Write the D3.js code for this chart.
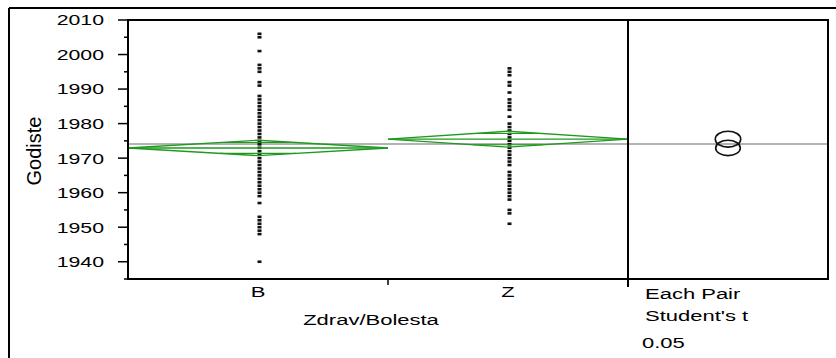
<!DOCTYPE html>
<html>
<head>
<meta charset="utf-8">
<script src="https://cdn.jsdelivr.net/npm/d3@7"></script>
<style>
  body { margin:0; background:#fff; }
  svg { display:block; font-family:"Liberation Sans", Arial, sans-serif; }
</style>
</head>
<body>
<svg width="836" height="358"></svg>
<script>
// groups and their sizes (width of each group on the x axis is proportional to n)
var groups = ["B", "Z"];
var group_n = [130, 120];
var group_mean = [1972.95, 1975.5];
var group_ci = [2.23, 2.3];
var grand_mean = 1974.1;

// distinct years seen in each group
var years_B = [2006,2005,2001,1997,1996,1995,1992,1991,1988,1987,1986,1985,1984,1983,1982,1981,1980,1979,1978,1977,
  1976,1975,1974,1973,1972,1971,1970,1969,1968,1967,1966,1965,1964,1963,1962,1961,1960,1959,1957,1953,1952,1951,1950,1949,1948,1940];
var years_Z = [1996,1995,1994,1992,1991,1989,1987,1986,1985,1984,1982,1980,1979,1978,1977,1976,1975,1974,1973,1972,
  1971,1970,1969,1968,1966,1965,1964,1963,1962,1961,1960,1959,1958,1955,1954,1951];

var y_ticks = [1940,1950,1960,1970,1980,1990,2000,2010];
var y_minor = [1935,1945,1955,1965,1975,1985,1995,2005];
var side_text = ["Each Pair", "Student's t", "0.05"];

function draw()
{
  var svg = d3.select("svg");
  var left = 128, right = 628, top = 20, bottom = 279, panel_r = 828;
  var green = "#1f9a1f";
  var sx = 1.42; // text in the picture is stretched sideways

  var total = 0;
  for(var i=0;i<group_n.length;i++) total += group_n[i];
  var x = d3.scaleLinear().domain([0, total]).range([left, right]);
  var y = d3.scaleLinear().domain([1935, 2010]).range([bottom, top]);
  var xc = d3.scaleLinear().domain([0, 1]).range([right, panel_r]);

  var bands = [];
  var start = 0;
  for(var i=0;i<groups.length;i++)
  {
    bands.push({name:groups[i], x0:x(start), x1:x(start+group_n[i]), mean:group_mean[i], ci:group_ci[i]});
    start += group_n[i];
  }

  // outer frame
  svg.append("line").attr("x1",9).attr("x2",836).attr("y1",8).attr("y2",8).attr("stroke","#000").attr("stroke-width",2);
  svg.append("line").attr("x1",9).attr("x2",9).attr("y1",8).attr("y2",358).attr("stroke","#000").attr("stroke-width",2);

  // grand mean
  svg.append("line").attr("x1",left).attr("x2",panel_r).attr("y1",y(grand_mean)).attr("y2",y(grand_mean))
    .attr("stroke","#9a9a9a").attr("stroke-width",1.5);

  // dots
  var pts = [];
  for(var i=0;i<years_B.length;i++) pts.push({g:0, v:years_B[i]});
  for(var i=0;i<years_Z.length;i++) pts.push({g:1, v:years_Z[i]});
  svg.selectAll("rect.pt").data(pts).enter().append("rect")
    .attr("class","pt")
    .attr("x", d => (bands[d.g].x0+bands[d.g].x1)/2 - 0.5)
    .attr("y", d => y(d.v) - 1.3)
    .attr("width", 4).attr("height", 2.6)
    .attr("fill", "#111");

  // mean diamonds
  for(var i=0;i<bands.length;i++)
  {
    var b = bands[i];
    var cx = (b.x0+b.x1)/2;
    var my = y(b.mean), ty = y(b.mean+b.ci), by = y(b.mean-b.ci);
    svg.append("path")
      .attr("d", "M"+b.x0+","+my+"L"+cx+","+ty+"L"+b.x1+","+my+"L"+cx+","+by+"Z")
      .attr("fill","none").attr("stroke",green).attr("stroke-width",1.4);
    svg.append("line").attr("x1",b.x0).attr("x2",b.x1).attr("y1",my).attr("y2",my)
      .attr("stroke",green).attr("stroke-width",1.4);
    // overlap marks
    var off = b.ci*Math.SQRT1_2;
    var hw = (b.x1-b.x0)/2*(1-Math.SQRT1_2);
    [b.mean+off, b.mean-off].forEach(function(v){
      svg.append("line").attr("x1",cx-hw).attr("x2",cx+hw).attr("y1",y(v)).attr("y2",y(v))
        .attr("stroke",green).attr("stroke-width",1.2);
    });
  }

  // comparison circles
  svg.selectAll("ellipse.cc").data(bands).enter().append("ellipse")
    .attr("class","cc")
    .attr("cx", xc(0.5))
    .attr("cy", d => y(d.mean))
    .attr("ry", d => y(d.mean-d.ci)-y(d.mean))
    .attr("rx", d => (y(d.mean-d.ci)-y(d.mean))*1.6)
    .attr("fill","none").attr("stroke","#111").attr("stroke-width",1.6);

  // boxes
  svg.append("rect").attr("x",left).attr("y",top).attr("width",panel_r-left).attr("height",bottom-top)
    .attr("fill","none").attr("stroke","#000").attr("stroke-width",2);
  svg.append("line").attr("x1",right).attr("x2",right).attr("y1",top).attr("y2",bottom+8)
    .attr("stroke","#000").attr("stroke-width",2);

  // y axis
  var yaxis = svg.append("g").attr("transform","translate("+left+",0)");
  yaxis.selectAll("line.maj").data(y_ticks).enter().append("line")
    .attr("x1",-10).attr("x2",0).attr("y1",d => y(d)).attr("y2",d => y(d))
    .attr("stroke","#000").attr("stroke-width",1.5);
  yaxis.selectAll("line.min").data(y_minor).enter().append("line")
    .attr("x1",-4).attr("x2",0).attr("y1",d => y(d)).attr("y2",d => y(d))
    .attr("stroke","#000").attr("stroke-width",1.5);
  yaxis.selectAll("text").data(y_ticks).enter().append("text")
    .attr("transform", d => "translate(-24,"+(y(d)+5.4)+") scale("+sx+",1)")
    .attr("text-anchor","end")
    .style("font-size","15px")
    .text(d => d);

  svg.append("text")
    .attr("transform","translate(41,151) rotate(-90)")
    .attr("text-anchor","middle")
    .style("font-size","20px")
    .text("Godiste");

  // x axis
  svg.append("line").attr("x1",bands[0].x1).attr("x2",bands[0].x1).attr("y1",bottom).attr("y2",bottom+6)
    .attr("stroke","#000").attr("stroke-width",1.5);
  svg.selectAll("text.xl").data(bands).enter().append("text")
    .attr("class","xl")
    .attr("transform", d => "translate("+((d.x0+d.x1)/2)+",297) scale("+sx+",1)")
    .attr("text-anchor","middle")
    .style("font-size","15.5px")
    .text(d => d.name);
  svg.append("text")
    .attr("transform","translate(371,325) scale("+sx+",1)")
    .attr("text-anchor","middle")
    .style("font-size","15.5px")
    .text("Zdrav/Bolesta");

  var sy = [299, 321, 348];
  var sxp = [645, 645, 642];
  for(var i=0;i<side_text.length;i++)
  {
    svg.append("text")
      .attr("transform","translate("+sxp[i]+","+sy[i]+") scale("+sx+",1)")
      .style("font-size","15.5px")
      .text(side_text[i]);
  }
}
draw();
</script>
</body>
</html>
